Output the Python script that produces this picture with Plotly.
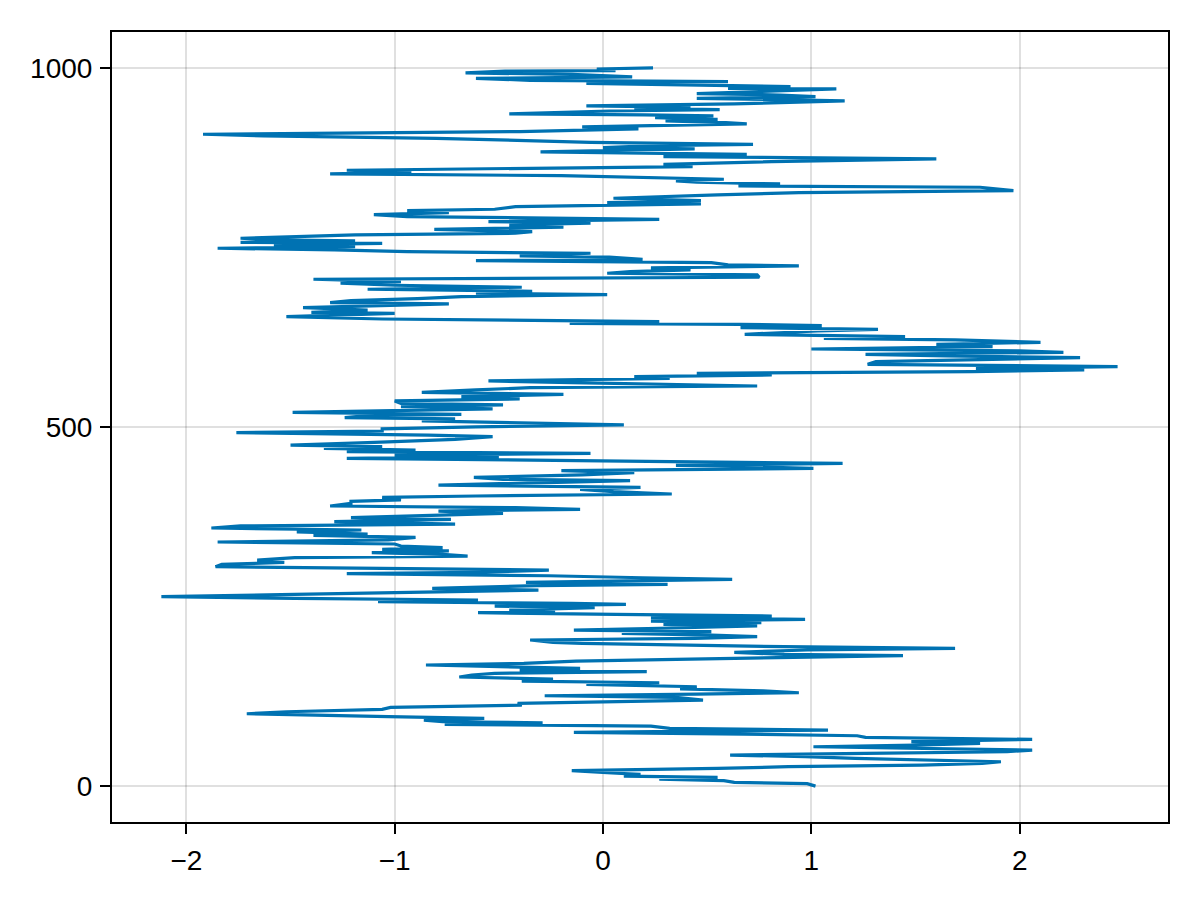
import plotly.graph_objects as go

# step index (vertical) and value (horizontal), bottom to top
steps = [
    0, 3.3, 5.2, 7.5, 9.8, 12.1, 14.0, 16.3, 18.6, 21.4, 24.6, 27.0, 29.3, 31.6, 33.9, 36.2, 38.6, 40.9,
    43.2, 45.5, 47.8, 50.2, 52.5, 54.8, 57.1, 59.4, 61.8, 65.0, 67.8, 70.1, 72.4, 74.8, 78.0, 80.3, 83.6,
    85.9, 88.2, 89.6, 91.9, 94.2, 96.6, 98.9, 100.7, 103.5, 106.8, 109.6, 112.8, 115.1, 117.4, 119.8,
    123.5, 125.8, 128.1, 130.0, 132.7, 135.5, 138.3, 141.6, 143.9, 146.2,
    149.1, 151.9, 154.7, 157.0, 159.3, 161.6, 163.9, 165.8, 168.6, 170.9, 174.1, 176.9, 178.8, 181.6,
    183.4, 186.2, 189.5, 191.8, 194.1, 196.4, 198.7, 200.1, 203.4, 205.7, 208.0, 210.3, 212.7, 215.0,
    217.3, 220.5, 222.9, 225.2, 227.5, 229.8, 232.1, 234.5, 236.8, 239.1, 241.4, 242.8, 245.1, 248.4,
    250.7, 253.0, 254.4, 256.7, 259.1, 261.4, 263.7, 266.9, 270.7, 273.0, 275.3, 279.0, 280.9, 283.7,
    285.5, 287.8, 290.1, 292.9, 295.7, 297.6, 300.8, 303.1, 305.5, 308.7, 311.5, 314.7, 318.0, 320.3,
    322.7, 325.0, 327.4, 329.7, 332.0, 334.3, 337.1, 339.9, 342.7, 346.4, 349.2, 351.0, 353.8, 356.6,
    359.4, 362.2, 364.9, 368.2, 371.4, 373.8, 376.1, 379.8, 383.0, 385.4, 387.7, 390.0, 393.7, 396.5,
    398.4, 402.1, 403.9, 406.7, 410.0, 413.2, 416.0, 419.2, 422.5, 425.3, 427.1, 429.9, 433.2, 436.4,
    439.2, 442.4, 444.8, 446.6, 449.4, 451.3, 454.0, 456.4, 458.7, 461.0, 463.3, 465.6, 468.0, 470.3,
    472.6, 474.9, 478.2, 481.0, 482.8, 486.5, 488.8, 492.1, 494.4,
    497.3, 500.1, 502.9, 505.6, 508.4, 511.2, 513.1, 515.9, 517.7, 520.5, 522.3, 525.1, 528.4, 530.7,
    533.0, 536.3, 539.1, 542.3, 545.5, 548.3, 551.6, 554.8, 557.1, 559.5, 561.8, 564.1, 567.8, 570.1,
    572.5, 574.8, 577.1, 579.4, 581.7, 584.1, 587.3, 591.0, 594.3, 596.6, 598.9, 601.2, 604.0, 605.9,
    608.6, 611.9, 615.1, 617.9, 621.2, 623.5, 625.8, 629.1, 633.7, 636.0, 638.3, 641.1, 643.0, 644.4,
    646.7, 650.4, 653.7, 658.3, 659.7, 662.9, 666.2,
    671.4, 673.3, 676.0, 678.8, 681.6, 684.4, 686.2, 689.0, 691.8, 694.6, 697.4, 700.2, 702.5, 705.7,
    708.5, 711.8, 714.1, 716.4, 718.7, 721.5, 724.3, 725.7, 728.9, 731.7, 733.6, 736.4, 738.2, 741.9,
    744.2, 746.6, 748.9, 751.2, 753.5, 755.8, 757.2, 759.1, 760.5, 762.8, 767.4, 769.8, 772.1, 775.3,
    778.1, 781.4, 783.7, 786.0, 789.2, 793.0, 795.7, 798.5, 801.3, 803.2, 806.9, 810.6, 812.4, 815.2,
    818.5, 823.1, 826.4, 829.2, 833.8, 835.6,
    838.4, 840.8, 842.6, 845.0, 847.3, 850.0, 852.4, 854.7, 857.5, 860.2, 862.6, 865.8, 869.5, 873.2,
    876.5, 879.7, 881.1, 883.0, 887.2, 889.0, 891.8, 893.6, 896.4, 902.0, 905.3, 907.6, 911.3, 915.0,
    917.8, 919.6, 922.0, 923.8, 926.1, 928.4, 930.8, 933.1, 934.5, 935.9, 940.0, 941.9, 943.8, 945.2,
    947.0, 949.8, 951.2, 954.0, 957.7, 960.0, 962.3, 964.2, 967.0, 970.7, 971.6, 974.0, 978.6, 980.9,
    982.7, 985.5, 987.4, 991.0, 993.0, 995.7, 996.2, 998.5, 1000,
]
values = [
    1.02, 0.98, 0.63, 0.58, 0.27, 0.55, 0.10, 0.18, 0.02, -0.15, 0.55, 0.89, 1.53, 1.82, 1.91, 1.52, 1.21, 0.97,
    0.61, 1.26, 1.94, 2.06, 1.58, 1.01, 1.50, 1.81, 1.48, 2.06, 1.26, 1.22, 0.68, -0.14, 1.08, 0.32, 0.23,
    -0.76, -0.29, -0.77, -0.86, -0.57, -1.03, -1.48, -1.71, -1.52, -1.06, -1.02, -0.39, -0.41, 0.05, 0.48,
    0.35, -0.28, 0.45, 0.94, 0.77, 0.37, 0.45, -0.08, 0.27, -0.39,
    -0.24, -0.69, -0.63, -0.52, 0.21, -0.40, -0.11, -0.37, -0.85, -0.38, -0.13, 0.42, 0.89, 1.44,
    0.87, 0.63, 0.98, 1.69, 0.87, 0.23, -0.10, -0.24, -0.35, 0.44, 0.74, 0.52, 0.09, 0.52,
    -0.14, 0.39, 0.74, 0.29, 0.76, 0.23, 0.97, 0.23, 0.81, 0.06, -0.60, -0.23, -0.45, -0.04,
    -0.52, 0.11, -0.15, -1.08, -0.60, -1.48, -2.12, -1.48, -0.66, -0.31, -0.82, -0.32, 0.31, -0.37,
    0.03, 0.62, 0.19, -0.26, -1.23, -0.60, -0.26, -1.06, -1.86, -1.83, -1.53, -1.66, -1.48, -0.65,
    -0.77, -1.11, -0.74, -1.06, -0.77, -0.97, -1.00, -1.85, -1.03, -0.90, -1.39, -1.13, -1.47, -1.16,
    -1.88, -1.74, -0.71, -1.29, -0.73, -1.21, -0.97, -0.48, -0.79, -0.11, -0.42, -1.31, -1.21, -1.21,
    -0.97, -1.06, -0.61, 0.33, 0.05, -0.11, 0.18, -0.79, -0.27, 0.13, -0.48, -0.62, -0.10, 0.15,
    -0.20, 1.01, 0.69, 0.35, 1.15, 0.48, -0.10, -1.23, -0.50, -1.00, -0.06, -1.23, -0.90, -1.34,
    -1.06, -1.50, -1.13, -0.85, -0.71, -0.53, -0.84, -1.76, -1.06,
    -1.06, -0.61, 0.10, -0.35, -0.87, -0.71, -1.24, -1.13, -0.68, -1.49, -1.11, -0.53, -0.97, -0.48,
    -0.97, -1.00, -0.40, -0.68, -0.19, -0.87, -0.61, -0.35, 0.74, 0.16, -0.15, -0.55, 0.32, 0.15,
    0.81, 0.45, 1.77, 2.31, 1.79, 2.47, 1.27, 1.31, 1.81, 2.29, 1.65, 1.26, 2.21, 2.00,
    1.00, 1.87, 1.60, 2.10, 1.69, 1.06, 1.45, 0.68, 1.03, 1.32, 0.66, 1.05, 0.66, -0.16,
    0.27, -1.06, -1.52, -1.00, -1.40, -1.13, -1.44,
    -0.74, -1.31, -1.21, -0.89, -0.68, 0.02, -0.61, -0.34, -1.13, -0.39, -1.00, -1.26, -0.97, -1.39,
    0.75, 0.74, 0.02, 0.13, 0.42, 0.23, 0.94, 0.60, 0.52, -0.61, 0.19, 0.03, -0.40, -0.06,
    -0.94, -1.29, -1.85, -1.19, -1.58, -1.06, -1.74, -1.19, -1.58, -1.74, -1.19, -0.42, -0.34, -0.81,
    -0.19, -0.45, -0.06, -0.55, 0.27, -0.94, -1.10, -0.74, -0.94, -0.52, -0.42, 0.47, 0.02, 0.47,
    0.05, 0.55, 0.94, 1.97, 1.81, 0.65,
    0.85, 0.45, 0.35, 0.58, 0.13, -0.20, -1.31, -0.92, -1.23, -0.35, 0.43, 0.29, 0.81, 1.60,
    0.29, 0.69, 0.30, -0.30, 0.44, 0.00, 0.25, 0.72, -0.06, -0.80, -1.63, -1.92, -0.40, 0.17,
    -0.10, 0.35, 0.69, 0.59, 0.30, 0.55, 0.25, 0.53, 0.20, -0.45, 0.03, 0.56, 0.15, 0.42,
    -0.08, 0.63, 0.80, 1.16, 0.45, 1.02, 0.85, 0.45, 0.75, 1.12, 0.60, 0.90, -0.08, 0.60,
    -0.35, -0.61, 0.14, -0.15, -0.66, -0.47, 0.06, -0.03, 0.24,
]

x_ticks = [-2, -1, 0, 1, 2]
y_ticks = [0, 500, 1000]

fig = go.Figure()
fig.add_trace(go.Scatter(x=values, y=steps, mode='lines',
                         line=dict(color='#0072B2', width=3.2)))

axis_style = dict(showgrid=True, gridcolor='rgba(0,0,0,0.12)', gridwidth=2,
                  zeroline=False, showline=True, linecolor='black', linewidth=2, mirror=True,
                  ticks='outside', ticklen=10, tickwidth=2, tickcolor='black',
                  tickfont=dict(family='Liberation Sans, Arial, sans-serif', size=28, color='black'))

fig.update_xaxes(range=[-2.357, 2.712], tickvals=x_ticks, ticklabelstandoff=2, **axis_style)
fig.update_yaxes(range=[-50, 1050], tickvals=y_ticks, ticklabelstandoff=2, **axis_style)
# the page adds an 8px body margin, so the margins are shifted to keep the frame in place
fig.update_layout(width=1200, height=900, showlegend=False,
                  plot_bgcolor='white', paper_bgcolor='white',
                  margin=dict(l=104, r=40, t=24, b=86))
fig.write_html("out.html")
